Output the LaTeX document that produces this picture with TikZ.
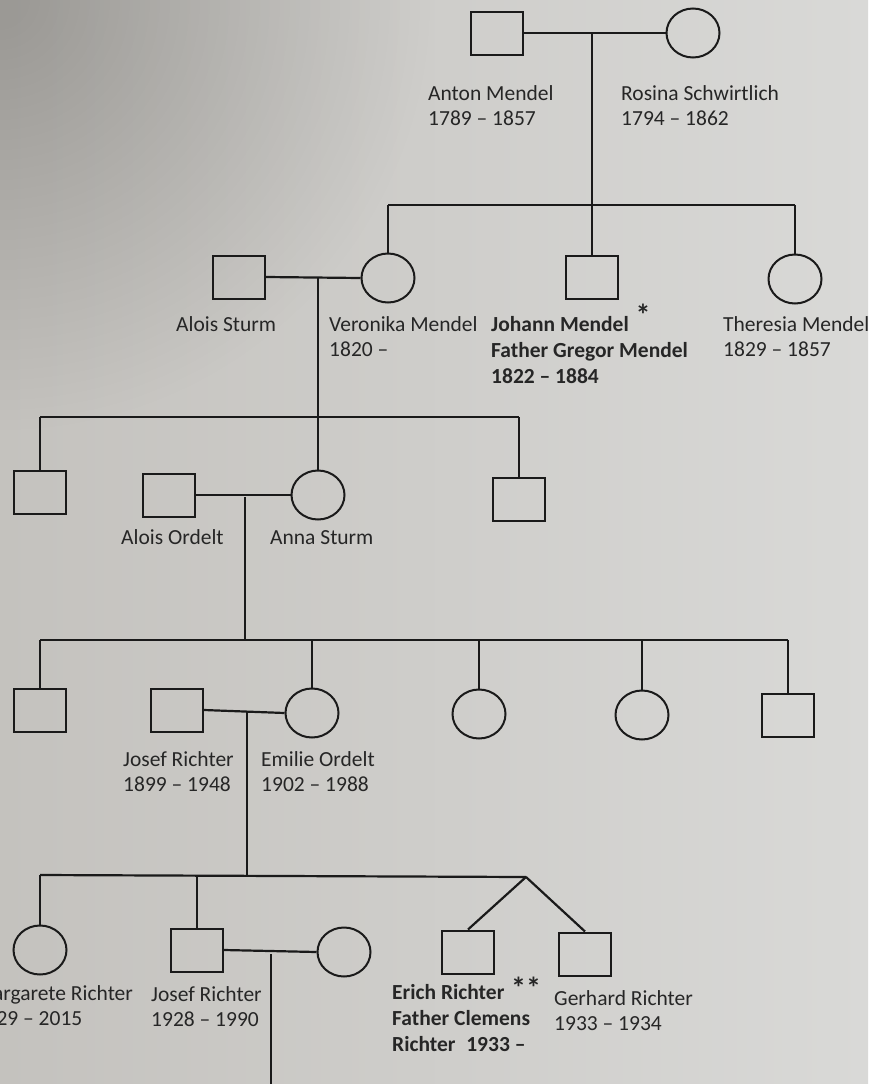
\documentclass[tikz,border=0pt]{standalone}
\usepackage{fontspec}
\setmainfont{Carlito}
\usetikzlibrary{shapes.geometric}
\definecolor{bgL}{HTML}{C4C2BE}
\definecolor{bgM}{HTML}{D1D1CF}
\definecolor{bgR}{HTML}{D9D9D7}
\definecolor{ink}{HTML}{1A1A1A}
\definecolor{txt}{HTML}{262626}
\tikzset{
  male/.style={draw=ink, line width=2pt, rectangle, minimum width=52pt, minimum height=43pt, inner sep=0pt},
  female/.style={draw=ink, line width=2pt, ellipse, minimum width=53pt, minimum height=49pt, inner sep=0pt},
  link/.style={draw=ink, line width=2.2pt},
  lbl/.style={anchor=north west, inner sep=0pt, align=left, text=txt, font=\fontsize{21.5}{25}\selectfont},
  blbl/.style={lbl, font=\fontsize{21.5}{26}\selectfont\bfseries},
  star/.style={inner sep=0pt, text=txt, font=\fontsize{30}{30}\selectfont\bfseries}
}
\begin{document}
\begin{tikzpicture}[x=1pt,y=-1pt]
\useasboundingbox (0,0) rectangle (868,1084);
\shade[left color=bgL, middle color=bgM, right color=bgR] (0,0) rectangle (868,1084);
\begin{scope}
  \clip (0,0) rectangle (868,1084);
  \foreach \r in {30,40,...,430} {\fill[black, opacity=0.0045] (0,0) circle (\r);}
\end{scope}

% generation 1
\node[male] (anton) at (497,33) {};
\node[female] (rosina) at (693,33) {};
\coordinate (m1) at (592,33);
\coordinate (s1c) at (592,205);
\coordinate (s1l) at (388,205);
\coordinate (s1r) at (795,205);
\draw[link] (anton.east) -- (rosina.west);
\draw[link] (m1) -- (s1c);
\draw[link] (s1l) -- (s1r);
\node[lbl] (lanton) at (428,82.5) {\strut Anton Mendel\\\strut 1789 -- 1857};
\node[lbl] (lrosina) at (621,82.5) {\strut Rosina Schwirtlich\\\strut 1794 -- 1862};

% generation 2
\node[male] (alois) at (239,277) {};
\node[female] (veronika) at (388,278) {};
\node[male] (johann) at (592,277) {};
\node[female] (theresia) at (795,279) {};
\draw[link] (s1l) -- (veronika.north);
\draw[link] (s1c) -- (johann.north);
\draw[link] (s1r) -- (theresia.north);
\coordinate (m2) at (318,278);
\coordinate (s2c) at (318,417);
\coordinate (s2l) at (40,417);
\coordinate (s2r) at (519,417);
\draw[link] (alois.east) -- (veronika.west);
\draw[link] (m2) -- (s2c);
\draw[link] (s2l) -- (s2r);
\node[lbl] (lalois) at (176,313.5) {\strut Alois Sturm};
\node[lbl] (lveronika) at (329,313.5) {\strut Veronika Mendel\\\strut 1820 --};
\node[blbl] (ljohann) at (491,313.5) {\strut Johann Mendel\\\strut Father Gregor Mendel\\\strut 1822 -- 1884};
\node[star] (star1) at (643,315) {*};
\node[lbl] (ltheresia) at (723,313.5) {\strut Theresia Mendel\\\strut 1829 -- 1857};

% generation 3
\node[male] (g3a) at (40,492) {};
\node[male] (aloiso) at (169,495) {};
\node[female] (anna) at (318,495) {};
\node[male] (g3b) at (519,499) {};
\draw[link] (s2l) -- (g3a.north);
\draw[link] (s2c) -- (anna.north);
\draw[link] (s2r) -- (g3b.north);
\coordinate (m3) at (245,497);
\coordinate (s3c) at (245,640);
\coordinate (s3l) at (40,640);
\coordinate (s3r) at (788,640);
\coordinate (s3d) at (312,640);
\coordinate (s3e) at (479,640);
\coordinate (s3f) at (642,640);
\draw[link] (aloiso.east) -- (anna.west);
\draw[link] (m3) -- (s3c);
\draw[link] (s3l) -- (s3r);
\node[lbl] (laloiso) at (121,526.5) {\strut Alois Ordelt};
\node[lbl] (lanna) at (270,526.5) {\strut Anna Sturm};

% generation 4
\node[male] (g4a) at (40,710) {};
\node[male] (josef) at (177,710) {};
\node[female] (emilie) at (312,713) {};
\node[female] (g4c) at (479,714) {};
\node[female] (g4d) at (642,715) {};
\node[male] (g4e) at (788,715) {};
\draw[link] (s3l) -- (g4a.north);
\draw[link] (s3d) -- (emilie.north);
\draw[link] (s3e) -- (g4c.north);
\draw[link] (s3f) -- (g4d.north);
\draw[link] (s3r) -- (g4e.north);
\coordinate (m4) at (247,712);
\coordinate (s4c) at (247,875);
\coordinate (s4l) at (40,875);
\coordinate (s4b) at (197,875);
\coordinate (apex) at (526,877);
\draw[link] (josef.east) -- (emilie.west);
\draw[link] (m4) -- (s4c);
\draw[link] (s4l) -- (apex);
\node[lbl] (ljosef) at (123,748.5) {\strut Josef Richter\\\strut 1899 -- 1948};
\node[lbl] (lemilie) at (261,748.5) {\strut Emilie Ordelt\\\strut 1902 -- 1988};

% generation 5
\node[female] (marg) at (40,950) {};
\node[male] (josef2) at (197,950) {};
\node[female] (wife) at (344,952) {};
\node[male] (erich) at (468,952) {};
\node[male] (gerhard) at (585,954) {};
\draw[link] (s4l) -- (marg.north);
\draw[link] (s4b) -- (josef2.north);
\draw[link] (apex) -- (erich.north);
\draw[link] (apex) -- (gerhard.north);
\coordinate (m5) at (271,954);
\coordinate (bot) at (271,1084);
\draw[link] (josef2.east) -- (wife.west);
\draw[link] (m5) -- (bot);
\node[lbl] (lmarg) at (-25.5,982.5) {\strut Margarete Richter\\\strut 1929 -- 2015};
\node[lbl] (ljosef2) at (151,983.5) {\strut Josef Richter\\\strut 1928 -- 1990};
\node[blbl] (lerich) at (392,981.5) {\strut Erich Richter\\\strut Father Clemens\\\strut Richter\enspace 1933 --};
\node[star] (star2) at (526,988) {**};
\node[lbl] (lgerhard) at (554,987.5) {\strut Gerhard Richter\\\strut 1933 -- 1934};
\end{tikzpicture}
\end{document}
